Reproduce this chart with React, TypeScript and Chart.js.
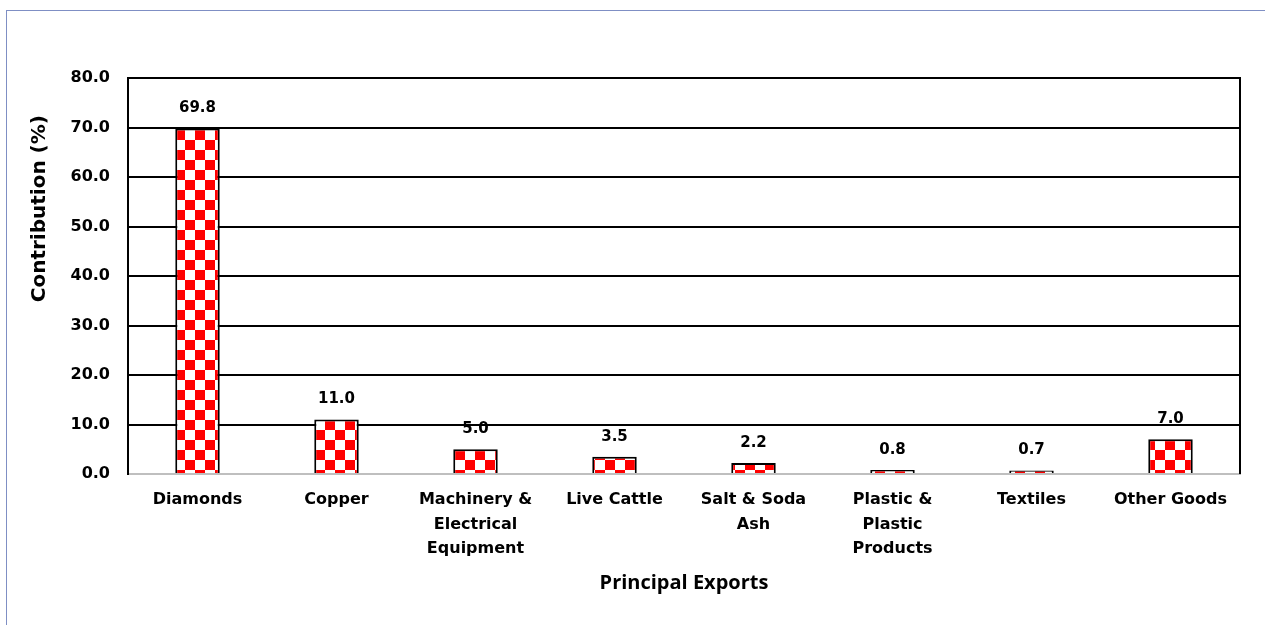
import React, { useEffect, useRef } from "react";
import { Chart, registerables } from "chart.js";

Chart.register(...registerables);

const categories: string[][] = [
  ["Diamonds"],
  ["Copper"],
  ["Machinery &", "Electrical", "Equipment"],
  ["Live Cattle"],
  ["Salt & Soda", "Ash"],
  ["Plastic &", "Plastic", "Products"],
  ["Textiles"],
  ["Other Goods"],
];
const values: number[] = [69.8, 11.0, 5.0, 3.5, 2.2, 0.8, 0.7, 7.0];
const yMin = 0;
const yMax = 80;
const yStep = 10;
const yTitle = "Contribution (%)";
const xTitle = "Principal Exports";

const TICK_FONT = "'DejaVu Sans', sans-serif";

function makeChecker(): CanvasPattern | string {
  const c = document.createElement("canvas");
  c.width = 20;
  c.height = 20;
  const g = c.getContext("2d");
  if (!g) return "#ff0000";
  g.fillStyle = "#ffffff";
  g.fillRect(0, 0, 20, 20);
  g.fillStyle = "#ff0000";
  g.fillRect(5, 0, 10, 10);
  g.fillRect(15, 10, 5, 10);
  g.fillRect(0, 10, 5, 10);
  const p = g.createPattern(c, "repeat");
  return p || "#ff0000";
}

const extrasPlugin = {
  id: "extras",
  afterDatasetsDraw(chart: any) {
    const { ctx, chartArea } = chart;
    // right border of plot
    ctx.save();
    ctx.strokeStyle = "#000";
    ctx.lineWidth = 2;
    ctx.beginPath();
    ctx.moveTo(chartArea.right, chartArea.top - 1);
    ctx.lineTo(chartArea.right, chartArea.bottom);
    ctx.stroke();
    // value labels
    const meta = chart.getDatasetMeta(0);
    ctx.fillStyle = "#000";
    ctx.font = `bold 15px ${TICK_FONT}`;
    ctx.textAlign = "center";
    ctx.textBaseline = "middle";
    meta.data.forEach((bar: any, i: number) => {
      const v = chart.data.datasets[0].data[i] as number;
      ctx.fillText(v.toFixed(1), bar.x, bar.y - 20);
    });
    // y axis title
    ctx.translate(40, chartArea.top + (chartArea.bottom - chartArea.top) * 0.33);
    ctx.rotate(-Math.PI / 2);
    ctx.font = `bold 20px ${TICK_FONT}`;
    ctx.fillText(yTitle, 0, 0);
    ctx.restore();
  },
};

export default function App() {
  const ref = useRef<HTMLCanvasElement | null>(null);

  useEffect(() => {
    if (!ref.current) return;
    const pattern = makeChecker();
    const chart = new Chart(ref.current, {
      type: "bar",
      data: {
        labels: categories,
        datasets: [
          {
            data: values,
            backgroundColor: pattern as any,
            borderColor: "#000000",
            borderWidth: 2,
            barPercentage: 0.32,
            categoryPercentage: 1,
          },
        ],
      },
      options: {
        responsive: false,
        animation: false,
        layout: { padding: { top: 78, right: 25, bottom: 30, left: 0 } },
        plugins: {
          legend: { display: false },
          tooltip: { enabled: false },
          title: { display: false },
        },
        scales: {
          x: {
            afterFit: (s: any) => {
              s.height = 121;
            },
            grid: { display: false, drawTicks: false },
            border: { display: true, color: "#bfbfbf", width: 2 },
            ticks: {
              color: "#000",
              padding: 14,
              maxRotation: 0,
              autoSkip: false,
              font: { family: TICK_FONT, size: 16, weight: "bold", lineHeight: 1.53 },
            },
            title: {
              display: true,
              text: xTitle,
              color: "#000",
              padding: 0,
              font: { family: "'Open Sans', sans-serif", size: 20, weight: "bold", lineHeight: 1.2 },
            },
          },
          y: {
            min: yMin,
            max: yMax,
            afterFit: (s: any) => {
              s.width = 128;
            },
            grid: {
              drawTicks: false,
              lineWidth: 2,
              color: (c: any) => (c.tick && c.tick.value === 0 ? "#bfbfbf" : "#000000"),
            },
            border: { display: true, color: "#000", width: 2 },
            ticks: {
              stepSize: yStep,
              color: "#000",
              padding: 18,
              font: { family: TICK_FONT, size: 16, weight: "bold" },
              callback: (v: any) => Number(v).toFixed(1),
            },
            title: { display: false },
          },
        },
      },
      plugins: [extrasPlugin],
    });
    return () => chart.destroy();
  }, []);

  return (
    <div style={{ position: "absolute", left: 0, top: 0, width: 1265, height: 625, overflow: "hidden", background: "#fff" }}>
      <div
        style={{
          position: "absolute",
          left: 6,
          top: 10,
          width: 1300,
          height: 700,
          border: "1px solid #7f8fc4",
          boxSizing: "border-box",
        }}
      />
      <canvas ref={ref} width={1265} height={625} style={{ position: "absolute", left: 0, top: 0 }} />
    </div>
  );
}
